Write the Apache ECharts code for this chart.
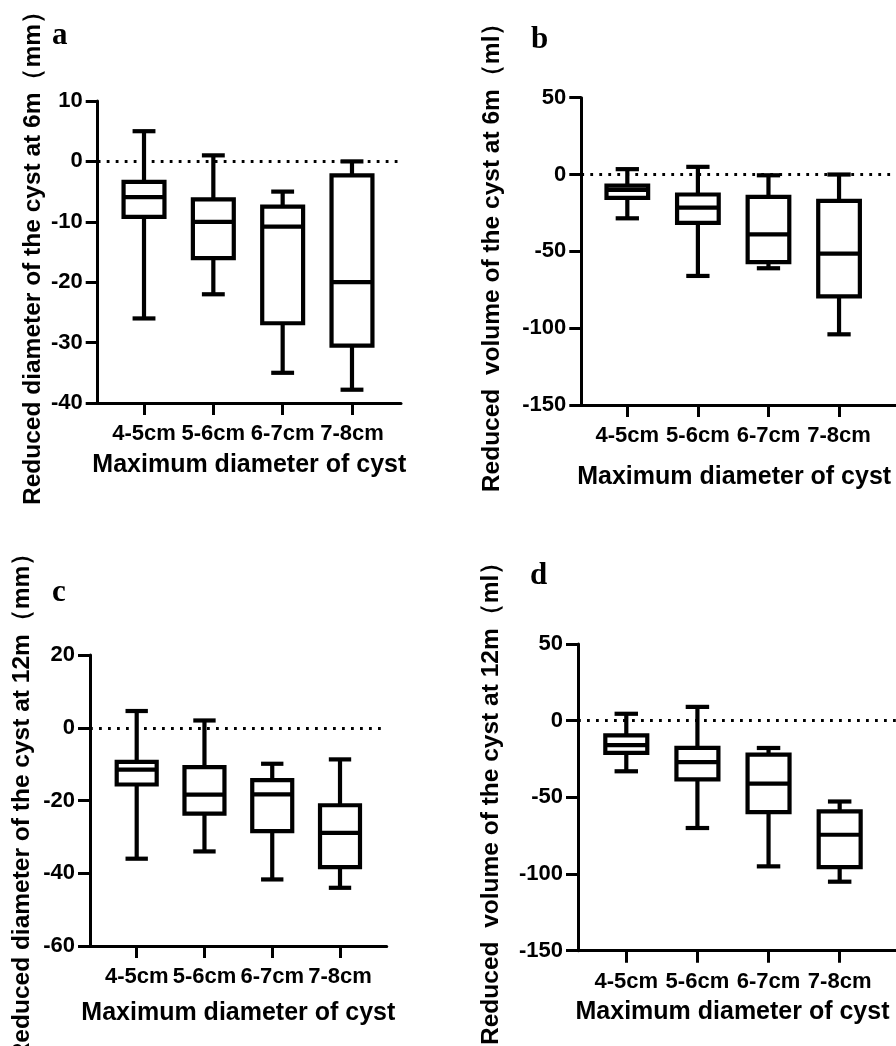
<!DOCTYPE html>
<html>
<head>
<meta charset="utf-8">
<script src="https://cdn.jsdelivr.net/npm/echarts@6/dist/echarts.min.js"></script>
<style>
  html, body { margin: 0; padding: 0; background: #fff; }
  #chart { width: 896px; height: 1046px; }
</style>
</head>
<body>
<div id="chart"></div>
<script>
// box values per group: [min, Q1, median, Q3, max]
const categories = ['4-5cm', '5-6cm', '6-7cm', '7-8cm'];
const diam6m = [
  [-26, -9.2, -5.9, -3.4, 5],
  [-22, -16, -10, -6.3, 1],
  [-35, -26.8, -10.8, -7.5, -5],
  [-37.8, -30.5, -20, -2.3, 0]
];
const vol6m = [
  [-28.5, -15.2, -10, -7.2, 3.5],
  [-66, -31.5, -21.5, -13, 5],
  [-61, -57, -39, -14.6, -0.5],
  [-104, -79.3, -51.5, -17.2, 0]
];
const diam12m = [
  [-36, -15.6, -11.5, -9.4, 4.6],
  [-34, -23.6, -18.4, -10.8, 2],
  [-41.7, -28.4, -18.3, -14.4, -9.9],
  [-44, -38.3, -28.9, -21.3, -8.7]
];
const vol12m = [
  [-33, -21, -16, -9.6, 4.5],
  [-70, -38.3, -27, -17.8, 9],
  [-95, -59.6, -41, -22.2, -17.8],
  [-105, -95.5, -74.4, -59.2, -52.7]
];

const xTitle = 'Maximum diameter of cyst';
const sans = '"Liberation Sans", Arial, sans-serif';

const panels = [
  { tag: 'a', data: diam6m, yName: 'Reduced diameter of the cyst at 6m（mm）',
    yMin: -40, yMax: 10, yStep: 10, xMin: 0.332, xMax: 4.707,
    grid: { left: 97.7, top: 101, width: 303.3, height: 302 },
    yGap: 52, xGap: 50, xPad: 0, tagPos: [52, 36] },
  { tag: 'b', data: vol6m, yName: 'Reduced  volume of the cyst at 6m（ml）',
    yMin: -150, yMax: 50, yStep: 50, xMin: 0.348, xMax: 4.807,
    grid: { left: 581.3, top: 97.7, width: 314.7, height: 307.3 },
    yGap: 77, xGap: 60, xPad: 9, tagPos: [531, 40] },
  { tag: 'c', data: diam12m, yName: 'Reduced diameter of the cyst at 12m（mm）',
    yMin: -60, yMax: 20, yStep: 20, xMin: 0.311, xMax: 4.689,
    grid: { left: 90, top: 655, width: 296.7, height: 291 },
    yGap: 55, xGap: 55, xPad: 0, tagPos: [52, 593] },
  { tag: 'd', data: vol12m, yName: 'Reduced  volume of the cyst at 12m（ml）',
    yMin: -150, yMax: 50, yStep: 50, xMin: 0.321, xMax: 4.792,
    grid: { left: 578, top: 644, width: 318, height: 306.7 },
    yGap: 74, xGap: 49, xPad: 9, tagPos: [530, 576] }
];

const renderBox = (params, api) => {
  const x = api.value(0);
  const pt = (i) => api.coord([x, api.value(i)]);
  const pMin = pt(1), pQ1 = pt(2), pMed = pt(3), pQ3 = pt(4), pMax = pt(5);
  const cx = pMin[0];
  const band = api.size([1, 0])[0];
  const bw = band * 0.295;
  const cw = band * 0.165;
  const style = { stroke: '#000', lineWidth: 4.2, fill: null, lineCap: 'butt' };
  const line = (x1, y1, x2, y2) => ({ type: 'line', shape: { x1, y1, x2, y2 }, style });
  return {
    type: 'group',
    children: [
      line(cx, pMax[1], cx, pQ3[1]),
      line(cx, pQ1[1], cx, pMin[1]),
      line(cx - cw, pMax[1], cx + cw, pMax[1]),
      line(cx - cw, pMin[1], cx + cw, pMin[1]),
      { type: 'rect', shape: { x: cx - bw, y: pQ3[1], width: bw * 2, height: pQ1[1] - pQ3[1] },
        style: { stroke: '#000', lineWidth: 4.2, fill: 'none', lineJoin: 'miter' } },
      line(cx - bw, pMed[1], cx + bw, pMed[1])
    ]
  };
};

const axisLine = { show: true, onZero: false, lineStyle: { color: '#000', width: 3 } };
const axisTick = { show: true, length: 12, lineStyle: { color: '#000', width: 3 } };

const option = {
  animation: false,
  backgroundColor: '#fff',
  grid: panels.map((p) => Object.assign({ containLabel: false, outerBoundsMode: 'none' }, p.grid)),
  xAxis: panels.map((p, i) => ({
    type: 'value',
    gridIndex: i,
    min: p.xMin,
    max: p.xMax,
    axisLine,
    axisTick: Object.assign({ customValues: [1, 2, 3, 4] }, axisTick),
    splitLine: { show: false },
    axisLabel: {
      customValues: [1, 2, 3, 4],
      formatter: (v) => categories[Math.round(v) - 1],
      color: '#000', fontSize: 22, fontWeight: 'bold', fontFamily: sans, margin: 20
    },
    name: xTitle,
    nameLocation: 'middle',
    nameGap: p.xGap,
    nameTextStyle: {
      color: '#000', fontSize: 25, fontWeight: 'bold', fontFamily: sans,
      padding: [0, p.xPad, 0, 0]
    }
  })),
  yAxis: panels.map((p, i) => ({
    type: 'value',
    gridIndex: i,
    min: p.yMin,
    max: p.yMax,
    interval: p.yStep,
    axisLine,
    axisTick,
    splitLine: { show: false },
    axisLabel: { color: '#000', fontSize: 22, fontWeight: 'bold', fontFamily: sans, margin: 15 },
    name: p.yName,
    nameLocation: 'middle',
    nameGap: p.yGap,
    nameTextStyle: { color: '#000', fontSize: 24.5, fontWeight: 'bold', fontFamily: sans }
  })),
  series: panels.map((p, i) => ({
    type: 'custom',
    xAxisIndex: i,
    yAxisIndex: i,
    renderItem: renderBox,
    encode: { x: 0, y: [1, 2, 3, 4, 5] },
    data: p.data.map((d, k) => [k + 1].concat(d)),
    silent: true,
    z: 3,
    markLine: {
      silent: true,
      symbol: ['none', 'none'],
      label: { show: false },
      lineStyle: { color: '#000', width: 2.8, type: [2.8, 6.2] },
      emphasis: { disabled: true },
      data: [{ yAxis: 0 }],
      z: 2
    }
  })),
  graphic: panels.map((p) => ({
    type: 'text',
    x: p.tagPos[0],
    y: p.tagPos[1],
    style: {
      text: p.tag,
      fill: '#000',
      font: 'bold 31px "Liberation Serif", "Times New Roman", serif',
      verticalAlign: 'middle'
    }
  }))
};

const chart = echarts.init(document.getElementById('chart'));
chart.setOption(option);
window.addEventListener('resize', () => {
  chart.resize();
});
</script>
</body>
</html>
